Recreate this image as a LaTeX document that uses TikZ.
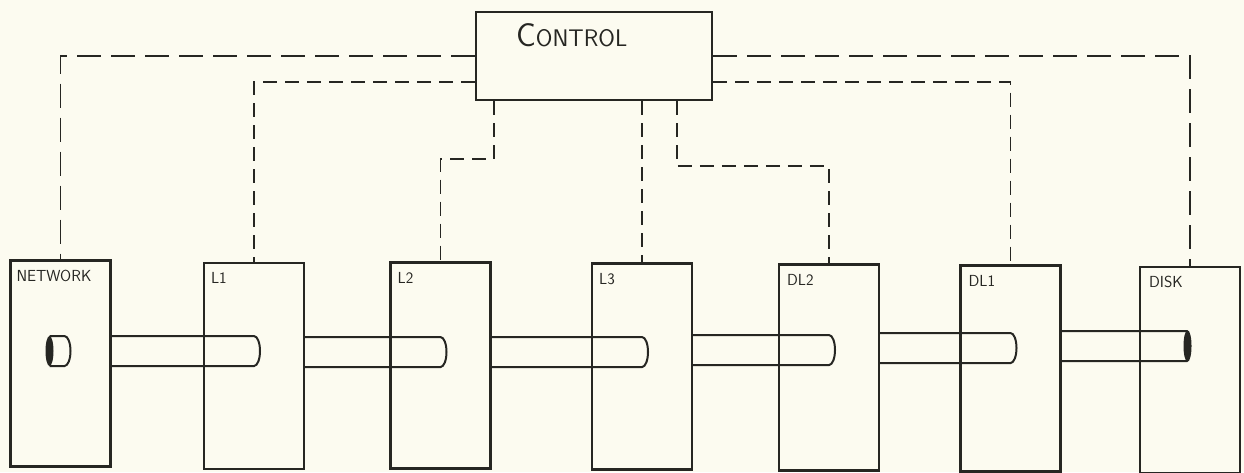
\documentclass[tikz,border=0pt]{standalone}
\usepackage{fontspec}
\definecolor{paper}{RGB}{252,251,240}
\definecolor{ink}{RGB}{38,38,34}
\begin{document}
\begin{tikzpicture}[x=1pt, y=-1pt,
    unit/.style={draw=ink, line width=2.2pt, minimum width=100pt, minimum height=206pt, inner sep=0pt},
    tag/.style={anchor=base west, inner sep=0pt, text=ink, font=\sffamily\fontsize{16}{16}\selectfont},
    ctrl/.style={draw=ink, line width=1.6pt, dash pattern=on 14pt off 8pt},
    pipe/.style={draw=ink, line width=2pt}]
    \fill[paper] (0,0) rectangle (1244,472);
    \useasboundingbox (0,0) rectangle (1244,472);
    % control unit
    \node[unit, minimum width=236pt, minimum height=88pt] (control) at (594,56) {};
    \node[anchor=base west, inner sep=0pt, text=ink] (control-lbl) at ([xshift=41pt,yshift=-36pt]control.north west)
        {\sffamily{\fontsize{33}{33}\selectfont C}{\fontsize{24}{24}\selectfont ONTROL}};
    % the chain of units
    \node[unit] (network) at (60.5,363.5) {};
    \node[unit] (l1) at (254,366) {};
    \node[unit] (l2) at (440.5,365.5) {};
    \node[unit] (l3) at (642,366.5) {};
    \node[unit] (dl2) at (829,367.5) {};
    \node[unit] (dl1) at (1010.5,368.5) {};
    \node[unit] (disk) at (1190,370) {};
    \node[tag] (network-lbl) at ([xshift=7pt,yshift=-22pt]network.north west) {NETWORK};
    \node[tag] (l1-lbl) at ([xshift=8pt,yshift=-22pt]l1.north west) {L1};
    \node[tag] (l2-lbl) at ([xshift=8pt,yshift=-22pt]l2.north west) {L2};
    \node[tag] (l3-lbl) at ([xshift=8pt,yshift=-22pt]l3.north west) {L3};
    \node[tag] (dl2-lbl) at ([xshift=9pt,yshift=-22pt]dl2.north west) {DL2};
    \node[tag] (dl1-lbl) at ([xshift=9pt,yshift=-22pt]dl1.north west) {DL1};
    \node[tag] (disk-lbl) at ([xshift=10pt,yshift=-22pt]disk.north west) {DISK};
    % control lines
    \draw[ctrl, dash pattern=on 24pt off 10pt] (control.west) -| (network.north);
    \draw[ctrl] ([yshift=-26pt]control.west) -| (l1.north);
    \draw[ctrl, dash pattern=on 24pt off 10pt] (control.east) -| (disk.north);
    \draw[ctrl] ([yshift=-26pt]control.east) -| (dl1.north);
    \draw[ctrl] ([xshift=19pt]control.south west) -- ++(0,58) -| (l2.north);
    \draw[ctrl] (control.south -| l3.north) -- (l3.north);
    \draw[ctrl] ([xshift=202pt]control.south west) -- ++(0,65) -| (dl2.north);
    % pipes
    \draw[pipe] ([xshift=-11pt]network.center |- 0,336) -- ([xshift=4pt]network.center |- 0,336)
        arc[start angle=90, end angle=-90, x radius=6pt, y radius=15pt] -- ([xshift=-11pt]network.center |- 0,366);
    \fill[ink] ([xshift=-11pt]network.center |- 0,351) ellipse[x radius=4pt, y radius=15pt];
    \draw[pipe] (network.east |- 0,336) -- (l1.center |- 0,336)
        arc[start angle=90, end angle=-90, x radius=6pt, y radius=15pt] -- (network.east |- 0,366);
    \draw[pipe] (l1.east |- 0,337) -- (l2.center |- 0,337)
        arc[start angle=90, end angle=-90, x radius=6pt, y radius=15pt] -- (l1.east |- 0,367);
    \draw[pipe] (l2.east |- 0,337) -- (l3.center |- 0,337)
        arc[start angle=90, end angle=-90, x radius=6pt, y radius=15pt] -- (l2.east |- 0,367);
    \draw[pipe] (l3.east |- 0,335) -- (dl2.center |- 0,335)
        arc[start angle=90, end angle=-90, x radius=6pt, y radius=15pt] -- (l3.east |- 0,365);
    \draw[pipe] (dl2.east |- 0,333) -- (dl1.center |- 0,333)
        arc[start angle=90, end angle=-90, x radius=6pt, y radius=15pt] -- (dl2.east |- 0,363);
    \draw[pipe] (dl1.east |- 0,331) -- ([xshift=-3pt]disk.center |- 0,331)
        arc[start angle=90, end angle=-90, x radius=3.5pt, y radius=15pt] -- (dl1.east |- 0,361);
    \fill[ink] ([xshift=-3pt]disk.center |- 0,346) ellipse[x radius=3.5pt, y radius=15pt];
\end{tikzpicture}
\end{document}
